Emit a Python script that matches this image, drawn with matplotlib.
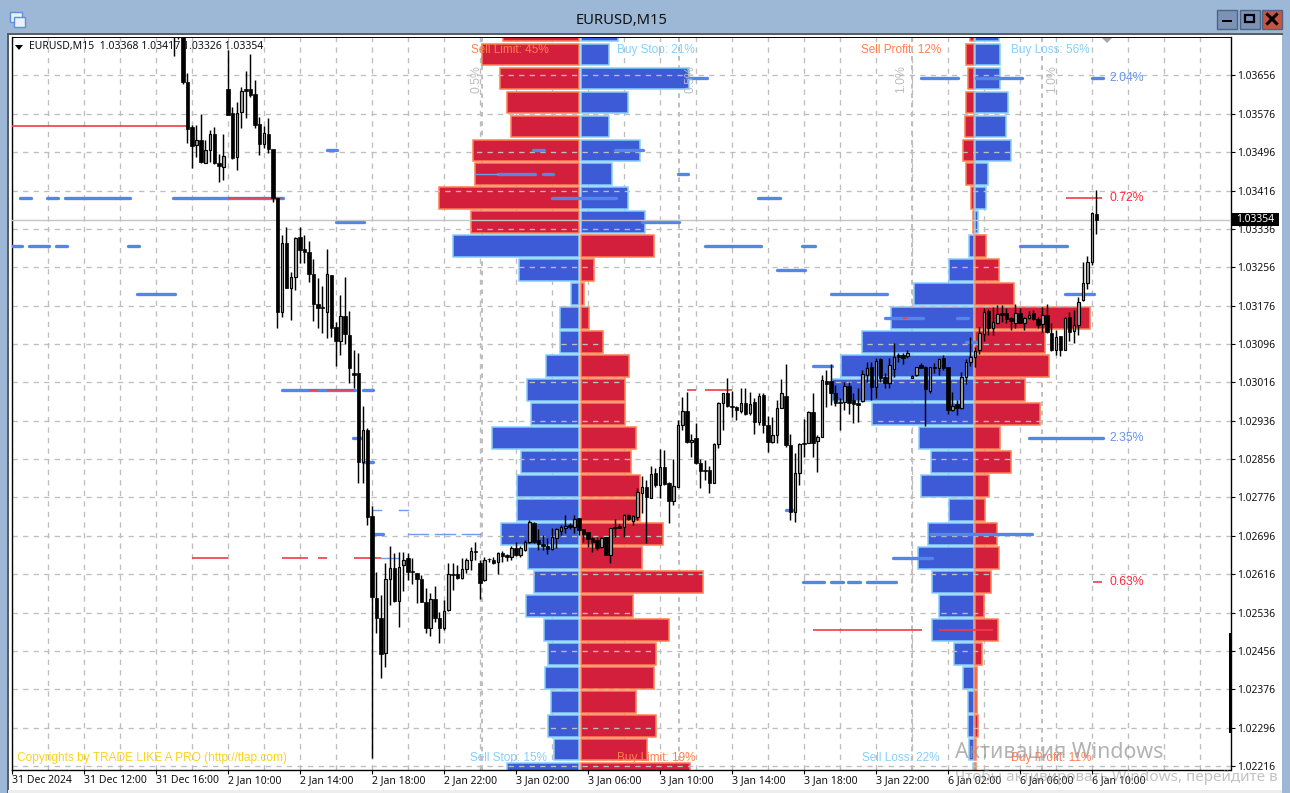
import matplotlib
matplotlib.use("Agg")
import numpy as np
import matplotlib.pyplot as plt
from matplotlib.patches import Rectangle, Polygon

# --- candles, M15, prices in points (1e-5) ---
first_bar = 36
opens = [
    103771,103761,103750,103642,103548,103511,103521,103473,103500,103534,
    103473,103465,103627,103577,103486,103579,103627,103627,103617,103554,
    103513,103534,103502,103400,103163,103306,103213,103235,103319,103294,
    103288,103242,103179,103173,103163,103240,103131,103102,103154,103115,
    103035,103035,102850,102916,102737,102566,102524,102451,102606,102629,
    102560,102635,102650,102622,102618,102606,102558,102504,102564,102524,
    102504,102541,102616,102616,102608,102627,102645,102664,102639,102604,
    102648,102645,102641,102660,102656,102652,102670,102656,102666,102683,
    102723,102687,102679,102675,102668,102691,102706,102712,102718,102714,
    102733,102710,102704,102691,102687,102673,102693,102656,102714,102716,
    102714,102739,102727,102735,102785,102798,102775,102827,102802,102839,
    102806,102768,102798,102927,102956,102891,102900,102848,102833,102833,
    102806,102887,102973,102994,102967,102964,102956,102973,102952,102975,
    102933,102989,102927,102891,102906,102962,102987,102885,102745,102827,
    102889,102889,102954,102893,102902,103019,103019,102994,102975,102975,
    103008,102979,102973,102977,103031,103048,103006,103065,103027,103014,
    103044,103073,103073,103071,103025,103031,103052,103048,102998,103048,
    103046,103067,103048,102958,102971,102962,103027,103058,103069,103083,
    103117,103165,103129,103140,103160,103160,103150,103140,103160,103140,
    103150,103160,103148,103138,103156,103119,103083,103112,103083,103152,
    103123,103135,103188,103223,103267,103368]
highs = [
    103792,103771,103771,103661,103552,103552,103575,103521,103542,103548,
    103492,103534,103709,103590,103600,103632,103665,103700,103646,103569,
    103550,103567,103502,103400,103323,103340,103246,103319,103340,103323,
    103311,103273,103233,103217,103294,103240,103142,103198,103235,103165,
    103083,103077,102967,102921,102758,102620,102572,102639,102675,102660,
    102662,102662,102660,102650,102618,102614,102587,102577,102591,102537,
    102562,102639,102639,102635,102650,102650,102673,102683,102645,102652,
    102650,102652,102662,102664,102658,102675,102683,102675,102687,102729,
    102725,102710,102698,102691,102712,102712,102718,102739,102723,102739,
    102733,102710,102704,102693,102693,102693,102693,102712,102731,102720,
    102741,102741,102739,102796,102821,102812,102841,102837,102877,102875,
    102808,102856,102937,102985,102996,102908,102931,102856,102854,102841,
    102889,102975,102994,103025,102998,102967,103004,103004,102996,102983,
    102994,102994,102946,102944,102979,103023,103054,102908,102868,102889,
    102939,102956,102994,102906,103031,103042,103054,103010,102983,103017,
    103017,102994,103004,103042,103058,103058,103067,103067,103035,103067,
    103098,103077,103077,103083,103031,103048,103056,103050,103048,103056,
    103067,103073,103048,102996,102979,103037,103065,103110,103090,103131,
    103171,103169,103173,103177,103177,103171,103152,103179,103171,103152,
    103165,103167,103152,103173,103179,103140,103125,103112,103152,103163,
    103167,103194,103267,103279,103371,103417]
lows = [
    103696,103732,103638,103515,103463,103486,103473,103473,103475,103471,
    103434,103438,103573,103481,103459,103546,103567,103611,103546,103490,
    103504,103494,103392,103129,103152,103213,103146,103208,103265,103265,
    103225,103144,103129,103119,103108,103110,103050,103073,103096,103014,
    103004,102806,102806,102718,102233,102493,102399,102422,102552,102558,
    102506,102581,102604,102595,102556,102558,102493,102487,102516,102472,
    102499,102539,102583,102606,102606,102618,102625,102645,102564,102602,
    102641,102637,102616,102641,102643,102645,102654,102652,102664,102681,
    102681,102666,102666,102658,102666,102670,102698,102702,102710,102702,
    102698,102683,102673,102662,102666,102670,102656,102639,102693,102712,
    102693,102729,102718,102729,102743,102681,102775,102798,102775,102802,
    102723,102760,102798,102916,102889,102860,102846,102796,102812,102785,
    102806,102879,102916,102964,102944,102937,102952,102948,102948,102908,
    102927,102910,102871,102889,102889,102962,102881,102729,102725,102802,
    102860,102889,102860,102829,102902,102964,102969,102967,102916,102958,
    102950,102931,102933,102975,103017,102979,102983,103017,103004,103004,
    103027,103058,103054,103067,103025,103029,103046,102925,102994,103035,
    103031,103042,102950,102956,102948,102960,103012,103050,103048,103075,
    103102,103115,103115,103140,103142,103140,103125,103129,103140,103125,
    103148,103146,103129,103121,103119,103081,103073,103071,103083,103102,
    103098,103115,103186,103211,103260,103326]
closes = [
    103750,103750,103642,103544,103509,103521,103475,103500,103534,103473,
    103467,103488,103573,103484,103577,103623,103623,103615,103552,103513,
    103536,103502,103400,103162,103306,103213,103235,103317,103292,103288,
    103242,103179,103171,103171,103242,103129,103102,103154,103117,103046,
    103031,102850,102916,102735,102568,102524,102449,102606,102629,102560,
    102631,102645,102620,102620,102606,102558,102504,102564,102524,102504,
    102539,102616,102614,102608,102627,102645,102664,102662,102597,102645,
    102647,102639,102660,102654,102652,102670,102656,102670,102683,102725,
    102683,102679,102675,102668,102693,102710,102714,102716,102714,102731,
    102708,102700,102689,102683,102670,102691,102656,102712,102712,102712,
    102739,102731,102737,102787,102798,102777,102825,102802,102839,102804,
    102768,102800,102927,102956,102891,102896,102848,102831,102831,102806,
    102887,102973,102994,102967,102964,102958,102973,102950,102971,102933,
    102987,102927,102891,102906,102962,102994,102885,102745,102827,102887,
    102887,102954,102889,102902,103021,103012,102994,102973,102973,103008,
    102973,102971,102969,103033,103046,103006,103060,103025,103014,103052,
    103069,103069,103067,103077,103029,103048,103046,103002,103048,103046,
    103065,103046,102958,102967,102962,103027,103058,103069,103081,103119,
    103163,103129,103142,103158,103156,103148,103144,103160,103140,103150,
    103156,103148,103135,103156,103121,103083,103110,103083,103150,103121,
    103135,103183,103223,103267,103369,103354]

# --- order book profiles, one row per 5 pip level from the top ---
row_prices = list(range(103750, 102199, -50))
n_above = 9  # rows above the current price use the sell/buy colours the other way round
orders_left = [76,97,79,72,68,106,104,140,108,126,60,8,19,19,33,52,48,87,58,62,62,78,51,45,53,35,31,34,28,31,25,72]
orders_right = [37,28,108,47,28,59,31,47,64,73,13,2.5,8,22,48,44,44,55,50,59,59,82,61,122,52,88,75,73,55,75,66,109]
positions_left = [4,8,6,8,9,11,8,3,1,5,25,60,83,112,133,142,102,55,43,53,25,46,56,42,35,42,20,11,6,6,5,0.5]
positions_right = [24,25,25,33,31,36,13,11,3,11,24,39,115,70,74,50,65,25,36,14,10,22,24,16,9,23,7,2,2,3,1,1]

# --- price levels with open positions: price, first bar, last bar ---
thick_levels = [
    (103650,202,210.2),(103650,214.2,224.4),(103650,240,242.4),(103650,150,154.4),
    (103500,70,72.2),(103500,115.8,118.2),(103500,134,140.2),
    (103450,108,116.2),(103450,118,120.2),(103450,148,150.2),
    (103400,1.8,4.2),(103400,7.8,10.2),(103400,11.8,26.2),(103400,35.8,60.2),
    (103400,120,134.2),(103400,165.8,170.7),
    (103350,72,78.2),(103350,140,148.2),
    (103300,0,2.2),(103300,3.8,8.2),(103300,9.8,12.2),(103300,25.8,28.2),
    (103300,154,166.4),(103300,175.6,178.4),(103300,224,234.4),
    (103250,170,176.2),
    (103200,27.8,36.2),(103200,182,194.4),(103200,234,240.4),
    (103150,194,202.4),(103150,210,212.4),
    (103100,212,214.4),(103050,178,182.2),
    (103000,60,76.2),(103000,78,80.2),
    (102900,75.8,77.8),(102900,226,242.4),
    (102850,78,80.2),(102750,172,174),
    (102700,80.2,82.4),(102700,204,226.7),
    (102650,195.8,204.4),
    (102600,175.8,180.4),(102600,182,184.7),(102600,185.8,188.4),(102600,190,196.4)]
thin_levels = [
    (102750,80.2,82),(102750,86,88),
    (102700,88,92.4),(102700,94,98.4),(102700,100,104),
    (102650,82,86),(103450,103,108)]
red_levels = [
    (103550,0,39.6),(103400,48,60),(103400,234.2,242.2),
    (103000,66,67.8),(103000,70,76),(103000,150,152),(103000,154,160),
    (103150,198,198.9),
    (102650,40,48),(102650,60,65.8),(102650,68,70),(102650,76,82),
    (102600,240.2,242.2),(102500,178,202.2),(102500,206,218)]

price_ticks = list(range(103656, 102215, -80))
time_bars = list(range(0, 241, 16))
time_labels = ["31 Dec 2024","31 Dec 12:00","31 Dec 16:00","2 Jan 10:00","2 Jan 14:00","2 Jan 18:00",
               "2 Jan 22:00","3 Jan 02:00","3 Jan 06:00","3 Jan 10:00","3 Jan 14:00","3 Jan 18:00",
               "3 Jan 22:00","6 Jan 02:00","6 Jan 06:00","6 Jan 10:00"]
last_price = 103354

WIN_BLUE = "#9DB8D6"
CORAL = "#FF7F50"
SKY = "#87CEFA"
BAR_RED = "#D31F3B"
BAR_BLUE = "#3D5BD6"
LEVEL_BLUE = "#5585E8"
LEVEL_RED = "#F53B47"
GRID = "#BEBEBE"

W, H = 1290, 793
fig = plt.figure(figsize=(W / 100, H / 100), dpi=100, facecolor="white")
ax = fig.add_axes([11.5 / W, 1 - 769.5 / H, (1230.5 - 11.5) / W, (769.5 - 36.5) / H])
ax.set_xlim(-0.11, 270.78)
ax.set_ylim(102208.7, 103737.3)
bar_px = 4.5  # one bar on screen

# grid: vertical lines go under the profiles, horizontal ones over them
dash = (0, (4, 4))
for b in range(0, 271, 8):
    ax.axvline(b, color=GRID, lw=0.95, ls=dash, zorder=0.5)
for b in [104.5, 148.3, 199.9, 229]:
    ax.axvline(b, color=GRID, lw=1.4, ls=(0, (2.4, 2.4)), zorder=0.5)
for p in price_ticks:
    ax.axhline(p, color=GRID, lw=0.95, ls=dash, zorder=2)

# profiles
def draw_profile(center, left_vals, right_vals, colors_top, colors_bottom):
    for i, p in enumerate(row_prices):
        c_left, c_right = colors_top if i < n_above else colors_bottom
        e_left = CORAL if c_left == BAR_RED else SKY
        e_right = CORAL if c_right == BAR_RED else SKY
        ax.barh(p, left_vals[i] / bar_px, left=center - 0.2 - left_vals[i] / bar_px, height=45,
                color=c_left, edgecolor=e_left, lw=1.1, zorder=1)
        ax.barh(p, right_vals[i] / bar_px, left=center + 0.2, height=45,
                color=c_right, edgecolor=e_right, lw=1.1, zorder=1)

draw_profile(126.3, orders_left, orders_right, (BAR_RED, BAR_BLUE), (BAR_BLUE, BAR_RED))
draw_profile(213.9, positions_left, positions_right, (BAR_RED, BAR_BLUE), (BAR_BLUE, BAR_RED))

# open position levels
for p, a, b in thick_levels:
    ax.plot([a, b], [p, p], color=LEVEL_BLUE, lw=2.4, solid_capstyle="round", zorder=3)
for p, a, b in thin_levels:
    ax.plot([a, b], [p, p], color="#6F9BEE", lw=1.0, zorder=3)
for p, a, b in red_levels:
    ax.plot([a, b], [p, p], color=LEVEL_RED, lw=1.2, solid_capstyle="butt", zorder=3.1)

ax.axhline(last_price, color="#C4C4C4", lw=1.0, zorder=3.2)

# candles
o = np.array(opens)
h = np.array(highs)
l = np.array(lows)
c = np.array(closes)
bars = np.arange(first_bar, first_bar + len(o))
up = c >= o
ax.vlines(bars, l, h, color="black", lw=1.05, zorder=4)
ax.bar(bars[~up], (o - c)[~up], bottom=c[~up], width=0.76, color="black", edgecolor="black", lw=0.5, zorder=5)
ax.bar(bars[up], (c - o)[up], bottom=o[up], width=0.62, color="#A8A8A8", edgecolor="black", lw=0.85, zorder=5)

# axes
ax.yaxis.tick_right()
ax.set_yticks(price_ticks)
ax.set_yticklabels([f"{p / 1e5:.5f}" for p in price_ticks], fontfamily="Noto Sans", fontsize=7.4, color="#111111")
ax.set_xticks(time_bars)
ax.set_xticklabels(time_labels, fontfamily="Noto Sans", fontsize=7.5, ha="left", color="#111111")
ax.tick_params(axis="y", length=3, width=0.8, pad=1.8, color="black")
ax.tick_params(axis="x", length=3, width=0.8, pad=1.0, color="black")
for side in ["left", "right", "bottom"]:
    ax.spines[side].set_linewidth(1.0)
ax.spines["top"].set_linewidth(0.7)

# percent labels next to the levels
label_font = dict(family="Liberation Sans", fontsize=8.8, va="center", zorder=6)
ax.text(243.8, 103650, "2.04%", color="#6495ED", **label_font)
ax.text(243.8, 103400, "0.72%", color="#FF2A3A", **label_font)
ax.text(243.8, 102900, "2.35%", color="#6495ED", **label_font)
ax.text(243.8, 102600, "0.63%", color="#FF2A3A", **label_font)

# everything laid out in screen pixels goes on a transparent overlay
top = fig.add_axes([0, 0, 1, 1], zorder=5)
top.set_xlim(0, W)
top.set_ylim(H, 0)
top.axis("off")
top.patch.set_alpha(0)

# window frame
top.add_patch(Rectangle((0, 0), W, 33, color=WIN_BLUE, lw=0))
top.add_patch(Rectangle((0, 0), 8, H, color=WIN_BLUE, lw=0))
top.add_patch(Rectangle((1282, 0), 8, H, color=WIN_BLUE, lw=0))
top.add_patch(Rectangle((7, 33), 1276, 2, color="#5A5F66", lw=0))
top.add_patch(Rectangle((7, 33), 1.5, H, color="#5A5F66", lw=0))
top.add_patch(Rectangle((8, 790), 1274, 3, color="#EDEDED", lw=0))
top.text(622, 20.5, "EURUSD,M15", ha="center", va="center", family="Noto Sans", fontsize=10.6, color="#111111")

# window icon and buttons
top.add_patch(Rectangle((9.5, 12), 12, 10, fc="#EAF1FB", ec="#5D8FE0", lw=1))
top.add_patch(Rectangle((13.5, 17), 11.5, 9.5, fc="#EAF1FB", ec="#5D8FE0", lw=1))
for x0, fc in [(1217, "#7C93B6"), (1239.5, "#7C93B6"), (1262, "#C75442")]:
    top.add_patch(Rectangle((x0, 9.5), 20, 19, fc=fc, ec="#4E6485", lw=1))
top.add_patch(Rectangle((1222, 19.5), 10, 2.5, color="black", lw=0))
top.add_patch(Rectangle((1245, 15), 9, 7, fc="none", ec="black", lw=1.6))
top.plot([1267.5, 1276.5], [14.5, 23.5], color="black", lw=2.2)
top.plot([1267.5, 1276.5], [23.5, 14.5], color="black", lw=2.2)

# chart header
top.add_patch(Polygon([(15, 45), (23, 45), (19, 50)], color="black", lw=0))
top.text(29, 47, "EURUSD,M15  1.03368 1.03417 1.03326 1.03354", va="center",
         family="Noto Sans", fontsize=7.5, color="#111111")
top.add_patch(Polygon([(1102, 38), (1112, 38), (1107, 43)], color="#A8A8A8", lw=0))

# profile captions
caption_font = dict(family="Liberation Sans", fontsize=8.5, va="center")
for x0, y0, txt, col in [(471, 50, "Sell Limit: 45%", CORAL), (617, 50, "Buy Stop: 21%", SKY),
                         (861, 50, "Sell Profit: 12%", CORAL), (1011, 50, "Buy Loss: 56%", SKY),
                         (470, 758, "Sell Stop: 15%", SKY), (617, 758, "Buy Limit: 19%", CORAL),
                         (862, 758, "Sell Loss: 22%", SKY), (1011, 758, "Buy Profit: 11%", CORAL)]:
    top.text(x0, y0, txt, color=col, **caption_font)

for x0, txt in [(476.5, "0.5%"), (690, "0.5%"), (901.5, "1.0%"), (1052, "1.0%")]:
    top.text(x0, 79, txt, rotation=90, ha="center", va="center", family="Liberation Sans",
             fontsize=8.8, color="#BDBDBD")

top.text(17, 758, "Copyrights by TRADE LIKE A PRO (http://tlap.com)", va="center",
         family="Liberation Sans", fontsize=8.6, color="#FFD21F")

# current price tag and the scroll marker on the price scale
top.add_patch(Rectangle((1232, 212.5), 47, 13.5, color="black", lw=0))
top.text(1255.5, 219.5, "1.03354", ha="center", va="center", family="Noto Sans", fontsize=7.4, color="white")
top.add_patch(Rectangle((1229, 633), 3, 100, color="black", lw=0))

# system text on the desktop
top.text(955, 752, "Активация Windows", va="center", family="Noto Sans", fontsize=15.4,
         color="#9A9A9A", alpha=0.75)
top.text(955, 777, "Чтобы активировать Windows, перейдите в", va="center", family="Noto Sans", fontsize=11,
         color="#9A9A9A", alpha=0.6)

fig.savefig("out.png", dpi=100)
